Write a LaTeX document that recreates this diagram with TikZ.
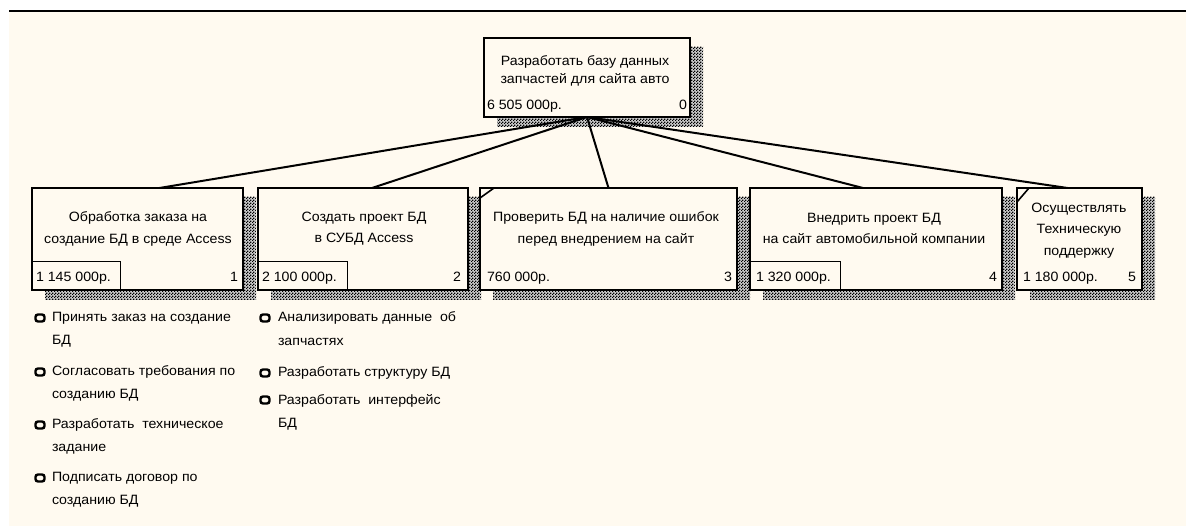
\documentclass[tikz,border=0pt]{standalone}
\usepackage{fontspec}
\setmainfont{Liberation Sans}[FakeStretch=1.05]
\usetikzlibrary{calc,patterns}
\definecolor{paper}{RGB}{255,250,240}
% checker used for the drop shadows
\pgfdeclarepatternformonly{checker}{\pgfpointorigin}{\pgfqpoint{3pt}{3pt}}{\pgfqpoint{3pt}{3pt}}{%
  \pgfpathrectangle{\pgfpointorigin}{\pgfqpoint{1.6pt}{1.6pt}}%
  \pgfpathrectangle{\pgfqpoint{1.5pt}{1.5pt}}{\pgfqpoint{1.6pt}{1.6pt}}%
  \pgfusepath{fill}}
\pgfdeclarelayer{back}
\pgfdeclarelayer{shade}
\pgfsetlayers{back,shade,main}
\begin{document}
\begin{tikzpicture}[x=1pt,y=-1pt,
  every node/.style={inner sep=0pt,outer sep=0pt,font=\fontsize{13.5}{21.5}\selectfont},
  task/.style={draw,line width=2.4pt,fill=paper,anchor=north west},
  title/.style={anchor=north,align=center},
  cost/.style={anchor=mid west},
  num/.style={anchor=mid east},
  link/.style={line width=2pt},
  costbox/.style={line width=1pt},
  cornermark/.style={line width=1.6pt},
  dot/.style={draw,line width=2.4pt,rounded corners=2.5pt,minimum width=9pt,minimum height=7pt},
  item/.style={anchor=north west,align=left},
  shadowbase/.style={fill=black!20},
  shadow/.style={pattern=checker,pattern color=black}
]
\useasboundingbox (0,0) rectangle (1186,526);
\begin{pgfonlayer}{back}
  \fill[white] (0,0) rectangle (1186,526);
  \fill[paper] (9,11) rectangle (1186,526);
  \draw[line width=2pt] (9,11) -- (1186,11);
\end{pgfonlayer}

% top-level task
\node[task,minimum width=206pt,minimum height=79pt] (n0) at (484,38) {};
\node[title,font=\fontsize{13.5}{18}\selectfont] (t0) at (585,56) {Разработать базу данных\\запчастей для сайта авто};
\node[cost] (c0) at (487,107) {6 505 000р.};
\node[num] (k0) at (687,107) {0};

% sub-tasks
\node[task,minimum width=211pt,minimum height=102pt] (n1) at (32,188) {};
\node[task,minimum width=210pt,minimum height=102pt] (n2) at (258,188) {};
\node[task,minimum width=257pt,minimum height=102pt] (n3) at (480,188) {};
\node[task,minimum width=252pt,minimum height=102pt] (n4) at (750,188) {};
\node[task,minimum width=125pt,minimum height=102pt] (n5) at (1017,188) {};

\node[title] (t1) at (138,212) {Обработка заказа на\\создание БД в среде Access};
\node[title] (t2) at (364,212) {Создать проект БД\\в СУБД Access};
\node[title] (t3) at (606,212) {Проверить БД на наличие ошибок\\перед внедрением на сайт};
\node[title] (t4) at (874,213) {Внедрить проект БД\\на сайт автомобильной компании};
\node[title] (t5) at (1079,203) {Осуществлять\\Техническую\\поддержку};

\node[cost] (c1) at (36,279) {1 145 000р.};
\node[cost] (c2) at (262,279) {2 100 000р.};
\node[cost] (c3) at (487,279) {760 000р.};
\node[cost] (c4) at (756,279) {1 320 000р.};
\node[cost] (c5) at (1023,279) {1 180 000р.};
\node[num] (k1) at (238,279) {1};
\node[num] (k2) at (461,279) {2};
\node[num] (k3) at (732,279) {3};
\node[num] (k4) at (997,279) {4};
\node[num] (k5) at (1136,279) {5};

% cost frames
\draw[costbox] ($(n1.south west)+(0,-28)$) -| ($(n1.south west)+(88,0)$);
\draw[costbox] ($(n2.south west)+(0,-28)$) -| ($(n2.south west)+(89,0)$);
\draw[costbox] ($(n4.south west)+(0,-28)$) -| ($(n4.south west)+(90,0)$);

% corner marks
\draw[cornermark] ($(n3.north west)+(0,10)$) -- ($(n3.north west)+(14,0)$);
\draw[cornermark] ($(n5.north west)+(0,14)$) -- ($(n5.north west)+(12,0)$);

% drop shadows
\begin{pgfonlayer}{shade}
  \foreach \n in {n0,n1,n2,n3,n4,n5}{
    \fill[shadowbase] ($(\n.north west)+(13,9)$) rectangle ($(\n.south east)+(13,10)$);
    \fill[shadow] ($(\n.north west)+(13,9)$) rectangle ($(\n.south east)+(13,10)$);
  }
\end{pgfonlayer}

% connectors
\draw[link] (n0.south) -- ([xshift=22pt]n1.north);
\draw[link] (n0.south) -- ([xshift=9pt]n2.north);
\draw[link] (n0.south) -- (n3.north);
\draw[link] (n0.south) -- ([xshift=-13pt]n4.north);
\draw[link] (n0.south) -- ([xshift=-12pt]n5.north);

% work items under task 1
\node[dot] (d11) at (40,318) {};
\node[dot] (d12) at (40,372) {};
\node[dot] (d13) at (40,425) {};
\node[dot] (d14) at (40,478) {};
\node[item,font=\fontsize{13.5}{23}\selectfont] (i11) at (52,312) {Принять заказ на создание\\БД};
\node[item,font=\fontsize{13.5}{23}\selectfont] (i12) at (52,366) {Согласовать требования по\\созданию БД};
\node[item,font=\fontsize{13.5}{23}\selectfont] (i13) at (52,419) {Разработать\ \ техническое\\задание};
\node[item,font=\fontsize{13.5}{23}\selectfont] (i14) at (52,472) {Подписать договор по\\созданию БД};

% work items under task 2
\node[dot] (d21) at (265,318) {};
\node[dot] (d22) at (265,373) {};
\node[dot] (d23) at (265,400) {};
\node[item,font=\fontsize{13.5}{24}\selectfont] (i21) at (278,312) {Анализировать данные\ \ об\\запчастях};
\node[item,font=\fontsize{13.5}{23}\selectfont] (i22) at (278,367) {Разработать структуру БД};
\node[item,font=\fontsize{13.5}{23}\selectfont] (i23) at (278,394) {Разработать\ \ интерфейс\\БД};
\end{tikzpicture}
\end{document}
